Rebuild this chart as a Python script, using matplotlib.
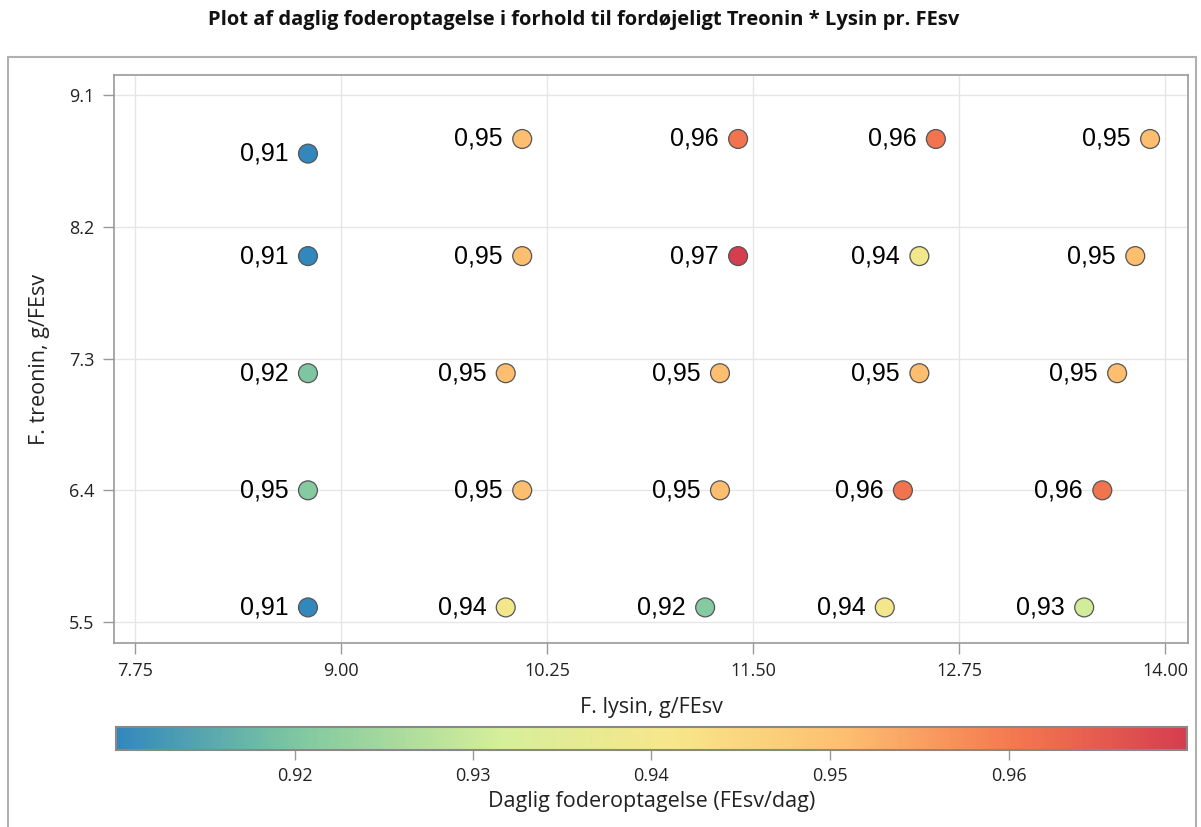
#!/usr/bin/env python3
"""
Daglig foderoptagelse vs. fordøjeligt treonin og lysin pr. FEsv
"""

import numpy as np
import matplotlib
matplotlib.use("Agg")
import matplotlib.pyplot as plt
from matplotlib.colors import LinearSegmentedColormap, Normalize
from matplotlib.patches import Rectangle

# Data, column by column, top row first
lysin = [8.80, 8.80, 8.80, 8.80, 8.80,
         10.10, 10.10, 10.00, 10.10, 10.00,
         11.41, 11.41, 11.30, 11.30, 11.21,
         12.61, 12.51, 12.51, 12.41, 12.30,
         13.91, 13.82, 13.71, 13.62, 13.51]
treonin = [8.7, 8.0, 7.2, 6.4, 5.6,
           8.8, 8.0, 7.2, 6.4, 5.6,
           8.8, 8.0, 7.2, 6.4, 5.6,
           8.8, 8.0, 7.2, 6.4, 5.6,
           8.8, 8.0, 7.2, 6.4, 5.6]
foder = [0.910, 0.910, 0.920, 0.921, 0.910,
         0.951, 0.951, 0.951, 0.951, 0.940,
         0.961, 0.970, 0.951, 0.951, 0.921,
         0.961, 0.940, 0.951, 0.961, 0.940,
         0.951, 0.951, 0.951, 0.961, 0.931]
labels = ["0,91", "0,91", "0,92", "0,95", "0,91",
          "0,95", "0,95", "0,95", "0,95", "0,94",
          "0,96", "0,97", "0,95", "0,95", "0,92",
          "0,96", "0,94", "0,95", "0,96", "0,94",
          "0,95", "0,95", "0,95", "0,96", "0,93"]

x_ticks = [7.75, 9.00, 10.25, 11.50, 12.75, 14.00]
y_ticks = [5.5, 6.4, 7.3, 8.2, 9.1]
cbar_ticks = [0.92, 0.93, 0.94, 0.95, 0.96]

cmap = LinearSegmentedColormap.from_list(
    "spec",
    [(0.0, '#3288bd'), (0.17, '#80c8a0'), (0.36, '#d6ef9a'),
     (0.52, '#f8e68a'), (0.68, '#fdbf70'), (0.84, '#f4784f'),
     (1.0, '#d53e4f')])
norm = Normalize(vmin=0.91, vmax=0.97)

W, H = 1201, 827
fig = plt.figure(figsize=(W / 100, H / 100), dpi=100)

# outer frame
fig.patches.append(Rectangle((8 / W, -0.01), (1196 - 8) / W, 1 - 57 / H + 0.01,
                             transform=fig.transFigure, fill=False,
                             edgecolor='#b0b0b0', linewidth=1.5))

ax = fig.add_axes([114 / W, 1 - 643 / H, (1188 - 114) / W, (643 - 75) / H])

ax.scatter(lysin, treonin, c=foder, cmap=cmap, norm=norm, s=185,
           edgecolors='#555555', linewidths=0.9, zorder=3)
for x, y, lab in zip(lysin, treonin, labels):
    ax.annotate(lab, (x, y), xytext=(-14, 0), textcoords='offset points',
                ha='right', va='center', fontsize=18,
                family='Liberation Sans', color='black')

ax.set_xlim(7.623, 14.14)
ax.set_ylim(5.357, 9.237)
ax.set_xticks(x_ticks)
ax.set_xticklabels([f"{t:.2f}" for t in x_ticks])
ax.set_yticks(y_ticks)
ax.set_yticklabels([f"{t:.1f}" for t in y_ticks])
ax.grid(True, color='#e6e6e6', linewidth=1)
ax.set_axisbelow(True)
for sp in ax.spines.values():
    sp.set_color('#999999')
    sp.set_linewidth(1.2)
ax.tick_params(axis='both', length=8, width=1, color='#999999',
               labelsize=13, labelcolor='#222222', pad=6)
for t in ax.get_xticklabels() + ax.get_yticklabels():
    t.set_family('Open Sans')

ax.set_xlabel('F. lysin, g/FEsv', fontsize=15.5, family='Open Sans',
              color='#222222')
ax.xaxis.set_label_coords(0.5, -(707 - 643) / 568)
ax.xaxis.label.set_va('center')
ax.set_ylabel('F. treonin, g/FEsv', fontsize=15.5, family='Open Sans',
              color='#222222')
ax.yaxis.set_label_coords(-(114 - 40) / 1074, 0.5)
ax.yaxis.label.set_va('center')

fig.text(584 / W, 1 - 20 / H,
         'Plot af daglig foderoptagelse i forhold til fordøjeligt Treonin * Lysin pr. FEsv',
         ha='center', va='center', fontsize=14.5, fontweight='bold',
         family='Open Sans', color='#111111')

# colorbar
cax = fig.add_axes([116 / W, 1 - 750 / H, (1187 - 116) / W, (750 - 727) / H])
sm = plt.cm.ScalarMappable(norm=norm, cmap=cmap)
cb = fig.colorbar(sm, cax=cax, orientation='horizontal', ticks=cbar_ticks)
cb.outline.set_edgecolor('#888888')
cb.outline.set_linewidth(1.5)
cax.tick_params(length=7, width=1, color='#999999', labelsize=13,
                labelcolor='#222222', pad=5)
cax.set_xticklabels([f"{t:.2f}" for t in cbar_ticks])
for t in cax.get_xticklabels():
    t.set_family('Open Sans')
cb.set_label('Daglig foderoptagelse (FEsv/dag)', fontsize=15.5,
             family='Open Sans', color='#222222')
cax.xaxis.set_label_coords(0.5, -(802 - 750) / 23)
cax.xaxis.label.set_va('center')

plt.savefig('out.png', dpi=100)
plt.close()
